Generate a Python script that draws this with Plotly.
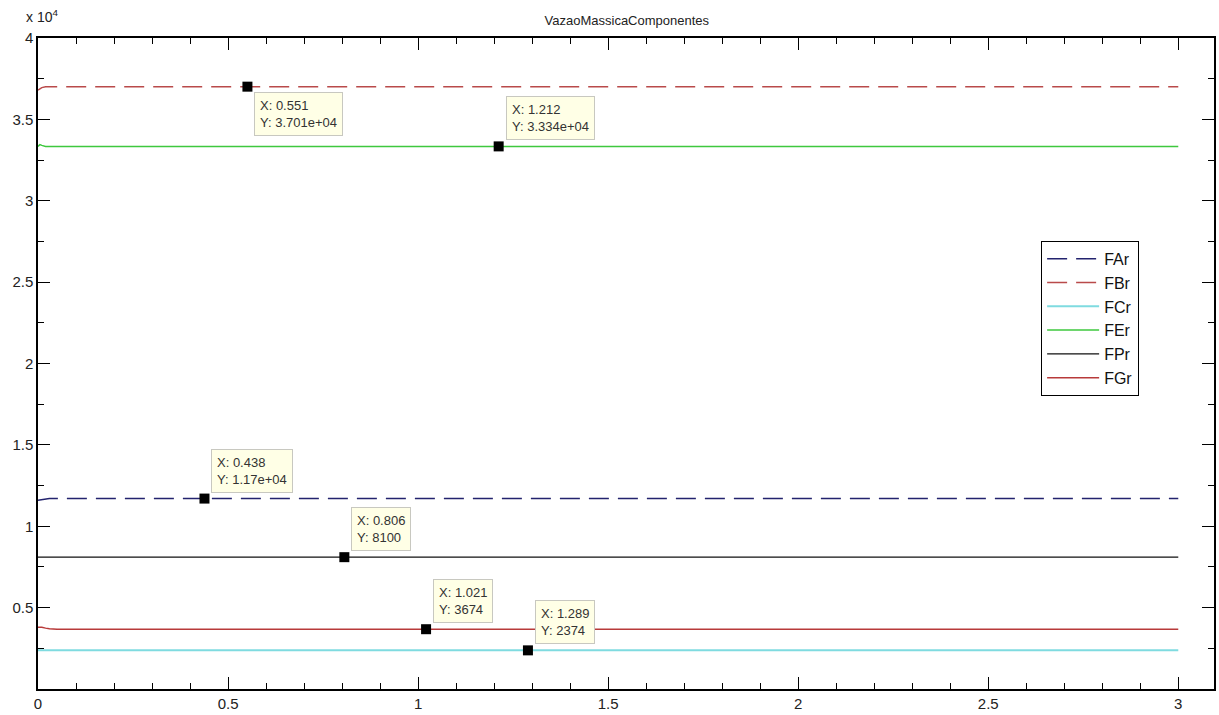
import plotly.graph_objects as go

# time samples
t = [0.0, 0.005, 0.01, 0.02, 0.03, 0.05, 3.0]

# series values
FAr = [11600, 11620, 11660, 11700, 11700, 11700, 11700]
FBr = [36800, 36880, 36950, 37000, 37010, 37010, 37010]
FCr = [2374, 2374, 2374, 2374, 2374, 2374, 2374]
FEr = [33340, 33450, 33400, 33340, 33340, 33340, 33340]
FPr = [8100, 8100, 8100, 8100, 8100, 8100, 8100]
FGr = [3800, 3800, 3790, 3740, 3700, 3674, 3674]

# data tips
tip_x = [0.551, 1.212, 0.438, 0.806, 1.021, 1.289]
tip_y = [37010, 33340, 11700, 8100, 3674, 2374]
tip_text = [
    "X: 0.551<br>Y: 3.701e+04",
    "X: 1.212<br>Y: 3.334e+04",
    "X: 0.438<br>Y: 1.17e+04",
    "X: 0.806<br>Y: 8100",
    "X: 1.021<br>Y: 3674",
    "X: 1.289<br>Y: 2374",
]
tip_below = [True, False, False, False, False, False]

ytick_vals = [5000, 10000, 15000, 20000, 25000, 30000, 35000, 40000]
ytick_text = ["0.5", "1", "1.5", "2", "2.5", "3", "3.5", "4"]
xtick_vals = [0, 0.5, 1, 1.5, 2, 2.5, 3]
xtick_text = ["0", "0.5", "1", "1.5", "2", "2.5", "3"]

series = [
    ("FAr", FAr, "#23236e", "20px,9px", 1.5),
    ("FBr", FBr, "#b94a4a", "20px,9px", 1.5),
    ("FCr", FCr, "#7fdbe0", "solid", 2),
    ("FEr", FEr, "#3ec83e", "solid", 1.5),
    ("FPr", FPr, "#111111", "solid", 1.3),
    ("FGr", FGr, "#b83a3a", "solid", 1.5),
]

fig = go.Figure()
for name, ys, col, dash, w in series:
    fig.add_trace(go.Scatter(x=t, y=ys, mode="lines", name=name,
                             line=dict(color=col, dash=dash, width=w)))

fig.add_trace(go.Scatter(x=tip_x, y=tip_y, mode="markers", showlegend=False,
                         marker=dict(symbol="square", size=10, color="black")))

for x, y, txt, below in zip(tip_x, tip_y, tip_text, tip_below):
    fig.add_annotation(
        x=x, y=y, text=txt, showarrow=False, align="left",
        xanchor="left", yanchor="top" if below else "bottom",
        xshift=7, yshift=-5 if below else 6,
        font=dict(family="Arial, Liberation Sans", size=13, color="#333333"),
        bgcolor="#ffffe6", bordercolor="#c8c8c0", borderwidth=1, borderpad=5,
    )

fig.add_annotation(
    x=0, y=1, xref="paper", yref="paper", text="x 10<sup>4</sup>",
    showarrow=False, xanchor="left", yanchor="bottom", xshift=-14, yshift=11,
    font=dict(family="Arial, Liberation Sans", size=14, color="#222222"),
)

axis_common = dict(
    showline=True, linecolor="black", linewidth=1.5, mirror="ticks",
    ticks="inside", ticklen=12, tickwidth=1.2, tickcolor="black",
    showgrid=False, zeroline=False,
    tickfont=dict(family="Arial, Liberation Sans", size=15, color="#222222"),
)

fig.update_layout(
    width=1219, height=715,
    margin=dict(l=38, r=3, t=38, b=22),
    paper_bgcolor="white", plot_bgcolor="white",
    title=dict(text="VazaoMassicaComponentes", x=0.5142, xanchor="center",
               y=0.972, yanchor="middle",
               font=dict(family="Arial, Liberation Sans", size=13, color="#222222")),
    xaxis=dict(range=[0, 3.094], tickvals=xtick_vals, ticktext=xtick_text,
               minor=dict(dtick=0.1, ticklen=6, tickcolor="black", ticks="inside"),
               **axis_common),
    yaxis=dict(range=[0, 40000], tickvals=ytick_vals, ticktext=ytick_text,
               minor=dict(dtick=2500, ticklen=6, tickcolor="black", ticks="inside"),
               **axis_common),
    legend=dict(x=0.853, y=0.6885, xanchor="left", yanchor="top",
                bgcolor="white", bordercolor="black", borderwidth=1,
                font=dict(family="Arial, Liberation Sans", size=16, color="#111111"),
                tracegroupgap=0, itemwidth=52),
    showlegend=True,
)

fig.write_html("out.html")
